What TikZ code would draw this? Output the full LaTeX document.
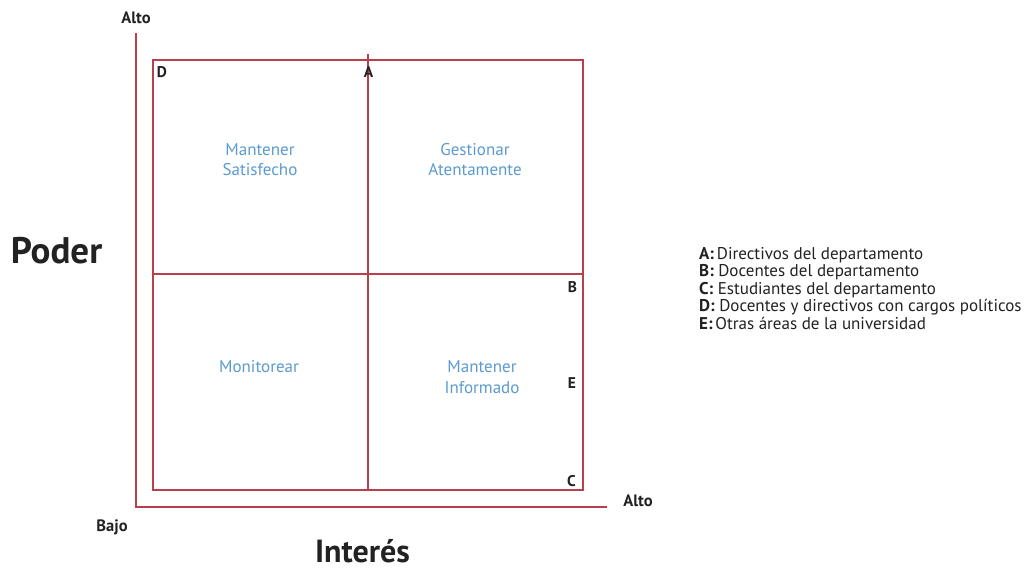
\documentclass[tikz,border=0pt]{standalone}
\usepackage{fontspec}
\setmainfont{PT Sans}
\definecolor{gridred}{HTML}{B8404C}
\definecolor{quadblue}{HTML}{5B9BD0}
\definecolor{labelgray}{HTML}{222222}
\begin{document}
\begin{tikzpicture}[x=1pt,y=-1pt,
  gridline/.style={draw=gridred,line width=1.1pt},
  quadtext/.style={text=quadblue,font=\fontsize{17}{21}\selectfont,anchor=base,inner sep=0pt},
  corner/.style={text=labelgray,font=\bfseries\fontsize{15.5}{18}\selectfont,anchor=base,inner sep=0pt},
  axislabel/.style={text=labelgray,font=\bfseries\fontsize{16.5}{19}\selectfont,anchor=base,inner sep=0pt},
  axistitle/.style={text=labelgray,font=\bfseries\fontsize{35}{40}\selectfont,anchor=base,inner sep=0pt},
  legend/.style={text=labelgray,font=\fontsize{17}{20}\selectfont,anchor=base west,inner sep=0pt}]
\useasboundingbox (0,0) rectangle (1024,571);
\fill[white] (0,0) rectangle (1024,571);

% axes
\coordinate (ytop) at (136,33);
\coordinate (origin) at (136,507);
\coordinate (xend) at (607,507);
\draw[gridline] (ytop) -- (origin) -- (xend);

% outer square and its quadrant dividers
\coordinate (tl) at (153,60);
\coordinate (br) at (583,490);
\coordinate (vtop) at (368,54);
\coordinate (vbot) at (368,490);
\coordinate (hleft) at (153,274);
\coordinate (hright) at (583,274);
\draw[gridline] (tl) rectangle (br);
\draw[gridline] (vtop) -- (vbot);
\draw[gridline] (hleft) -- (hright);

% quadrant labels (one node per line, placed on its baseline)
\node[quadtext] (q1a) at (260,155) {Mantener};
\node[quadtext] (q1b) at (260,175) {Satisfecho};
\node[quadtext] (q2a) at (475,155) {Gestionar};
\node[quadtext] (q2b) at (475,175) {Atentamente};
\node[quadtext] (q3)  at (259,372) {Monitorear};
\node[quadtext] (q4a) at (482,372) {Mantener};
\node[quadtext] (q4b) at (482,393) {Informado};

% stakeholder markers
\node[corner] (mD) at (162,77) {D};
\node[corner] (mA) at (368.5,77) {A};
\node[corner] (mB) at (572.5,292) {B};
\node[corner] (mE) at (572,388) {E};
\node[corner] (mC) at (571.5,486) {C};

% axis annotations
\node[axislabel] (altoY) at (136,23) {Alto};
\node[axislabel] (altoX) at (638,506) {Alto};
\node[axislabel] (bajo) at (112,531) {Bajo};
\node[axistitle,font=\bfseries\fontsize{37}{42}\selectfont] (poder) at (56.5,263) {Poder};
\node[axistitle,font=\bfseries\fontsize{32}{36}\selectfont] (interes) at (362.5,562) {Interés};

% legend
\node[legend] (kA) at (699,259) {\textbf{A:}\,Directivos del departamento};
\node[legend] (kB) at (699,276.5) {\textbf{B:} Docentes del departamento};
\node[legend] (kC) at (699,294) {\textbf{C:} Estudiantes del departamento};
\node[legend] (kD) at (699,311.5) {\textbf{D:} Docentes y directivos con cargos políticos};
\node[legend] (kE) at (699,329) {\textbf{E:}\,Otras áreas de la universidad};
\end{tikzpicture}
\end{document}
